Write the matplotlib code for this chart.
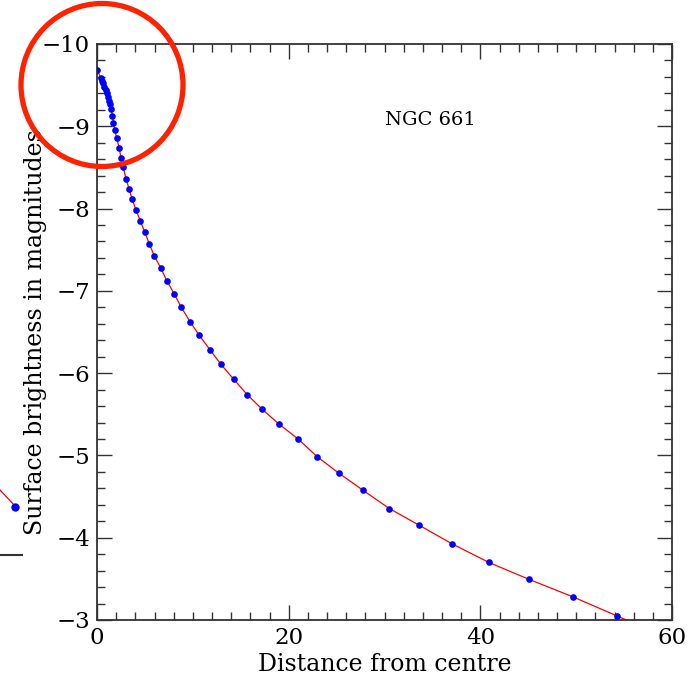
import numpy as np
import matplotlib
matplotlib.use('Agg')
from matplotlib import pyplot as plt
from matplotlib.patches import Ellipse
from matplotlib.lines import Line2D
from matplotlib.ticker import MultipleLocator

# surface brightness profile of NGC 661
radius = [0.0, 0.42, 0.55, 0.66, 0.76, 0.91, 1.01, 1.12, 1.22, 1.36, 1.46, 1.60,
          1.70, 1.85, 2.06, 2.30, 2.50, 2.74, 3.03, 3.34, 3.68, 4.07, 4.52, 4.98,
          5.46, 5.98, 6.65, 7.30, 8.04, 8.79, 9.70, 10.68, 11.79, 12.94, 14.26,
          15.68, 17.25, 18.94, 20.94, 22.96, 25.25, 27.79, 30.50, 33.60, 37.03,
          40.90, 45.04, 49.69, 54.25]
mag = [-9.685, -9.584, -9.555, -9.523, -9.482, -9.442, -9.402, -9.361, -9.312,
       -9.268, -9.211, -9.130, -9.045, -8.953, -8.856, -8.742, -8.620, -8.502,
       -8.362, -8.241, -8.111, -7.982, -7.849, -7.716, -7.570, -7.425, -7.279,
       -7.121, -6.967, -6.801, -6.627, -6.458, -6.284, -6.106, -5.927, -5.738,
       -5.560, -5.386, -5.204, -4.986, -4.783, -4.574, -4.355, -4.153, -3.927,
       -3.699, -3.496, -3.280, -3.050]
galaxy = 'NGC 661'

plt.rcParams['font.family'] = ['DejaVu Serif']

W, H = 691, 678
fig = plt.figure(figsize=(W / 100, H / 100), dpi=100)
ax = fig.add_axes([97 / W, 1 - 620 / H, (672 - 97) / W, (620 - 44) / H])

# fitted profile: through the points, carried on past the last one to the frame
r = np.array(radius)
m = np.array(mag)
slope = (m[-1] - m[-2]) / (r[-1] - r[-2])
r_fit = np.append(r, r[-1] + 2)
m_fit = np.append(m, m[-1] + 2 * slope)
ax.plot(r_fit, m_fit, color='#ff0000', lw=0.9, zorder=2)
ax.plot(r, m, 'o', color='#0000ff', ms=4.8, mew=0, zorder=3)

ax.set_xlim(0, 60)
ax.set_ylim(-3, -10)
ax.xaxis.set_major_locator(MultipleLocator(20))
ax.xaxis.set_minor_locator(MultipleLocator(2))
ax.yaxis.set_major_locator(MultipleLocator(1))
ax.yaxis.set_minor_locator(MultipleLocator(0.2))
ax.tick_params(which='both', direction='in', top=True, right=True,
               color='#333333', width=1.0, labelsize=16.5, pad=5)
ax.tick_params(which='major', length=10.5)
ax.tick_params(which='minor', length=5.5)
for s in ax.spines.values():
    s.set_linewidth(1.3)
    s.set_color('#333333')

ax.set_xlabel('Distance from centre', fontsize=17, labelpad=3)
ax.set_ylabel('Surface brightness in magnitudes', fontsize=17, labelpad=-4)
ax.text(0.579, 0.868, galaxy, transform=ax.transAxes, fontsize=14,
        ha='center', va='center')

# red ring drawn over the top left corner
fig.add_artist(Ellipse((102 / W, 1 - 85 / H), 162 / W, 163 / H, fill=False,
                       ec='#ff2200', lw=3.8, zorder=10))

# bits of the neighbouring panel cut off at the left edge
fig.add_artist(Line2D([0, 15 / W], [1 - 490 / H, 1 - 506 / H], color='#ff0000', lw=0.9))
fig.add_artist(Line2D([15 / W], [1 - 507 / H], marker='o', color='#0000ff', ms=6, mew=0))
fig.add_artist(Line2D([0, 22 / W], [1 - 555 / H, 1 - 555 / H], color='#333333', lw=1.5))

fig.savefig('out.png', dpi=100)
